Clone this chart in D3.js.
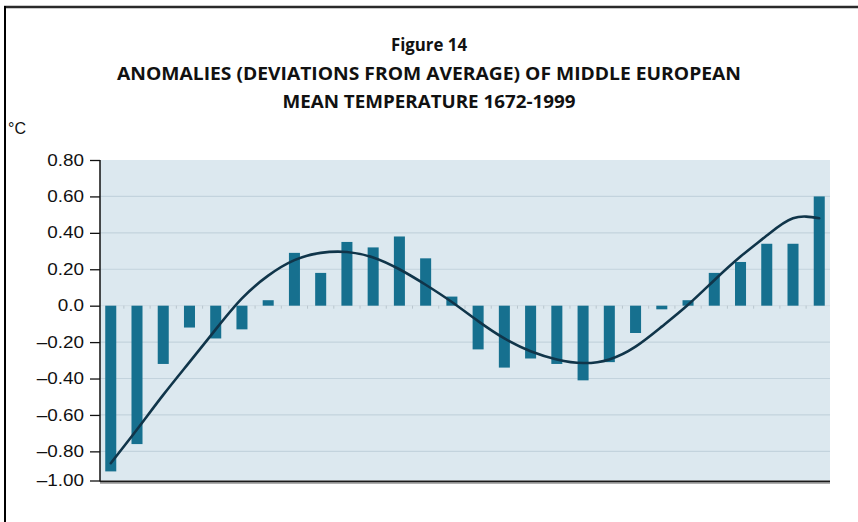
<!DOCTYPE html>
<html>
<head>
<meta charset="utf-8">
<script src="https://cdn.jsdelivr.net/npm/d3@7"></script>
<style>
  html, body { margin: 0; padding: 0; background: #ffffff; }
  svg { display: block; }
</style>
</head>
<body>
<svg id="chart" width="858" height="522"></svg>
<script>
// ---- data ----
const categories = ["1","2","3","4","5","6","7","8","9","10","11","12","13","14",
                    "15","16","17","18","19","20","21","22","23","24","25","26","27","28"];
const anomalies = [-0.91, -0.76, -0.32, -0.12, -0.18, -0.13, 0.03, 0.29, 0.18, 0.35,
                   0.32, 0.38, 0.26, 0.05, -0.24, -0.34, -0.29, -0.32, -0.41, -0.31,
                   -0.15, -0.02, 0.03, 0.18, 0.24, 0.34, 0.34, 0.60];
const trend = [-0.865, -0.68, -0.49, -0.31, -0.13, 0.04, 0.165, 0.25, 0.29, 0.295,
               0.265, 0.20, 0.115, 0.02, -0.085, -0.18, -0.25, -0.295, -0.315, -0.295,
               -0.225, -0.115, 0.005, 0.14, 0.27, 0.385, 0.48, 0.48];
const tickValues = [0.8, 0.6, 0.4, 0.2, 0, -0.2, -0.4, -0.6, -0.8, -0.96];
const tickLabels = ["0.80", "0.60", "0.40", "0.20", "0.0", "\u20130.20", "\u20130.40", "\u20130.60", "\u20130.80", "\u20131.00"];
const titleLines = ["Figure 14",
                    "ANOMALIES (DEVIATIONS FROM AVERAGE) OF MIDDLE EUROPEAN",
                    "MEAN TEMPERATURE 1672-1999"];
const unitLabel = "\u00B0C";

// ---- layout ----
const svg = d3.select("#chart");
const plot = { left: 100, right: 830, top: 160, bottom: 480.5 };

const x = d3.scaleBand().domain(categories).range([plot.left, plot.right])
  .paddingInner(0.58).paddingOuter(0.2);
const y = d3.scaleLinear().domain([-0.96, 0.8]).range([plot.bottom, plot.top]);

// outer frame (top and left only)
svg.append("line").attr("x1", 4).attr("x2", 858).attr("y1", 7).attr("y2", 7)
  .attr("stroke", "#2a2a2a").attr("stroke-width", 2.5);
svg.append("line").attr("x1", 5).attr("x2", 5).attr("y1", 6).attr("y2", 522)
  .attr("stroke", "#000").attr("stroke-width", 2);

// titles
const titleFont = "'Open Sans', 'DejaVu Sans', sans-serif";
const titleSpecs = [
  { y: 51, w: 76 },
  { y: 80, w: 624 },
  { y: 108, w: 293 }
];
titleLines.forEach((t, i) => {
  svg.append("text")
    .attr("x", 429).attr("y", titleSpecs[i].y)
    .attr("text-anchor", "middle")
    .attr("font-family", titleFont)
    .attr("font-weight", "bold")
    .attr("font-size", 18.5)
    .attr("fill", "#111")
    .attr("textLength", titleSpecs[i].w)
    .attr("lengthAdjust", "spacingAndGlyphs")
    .text(t);
});

// unit label
svg.append("text").attr("x", 8).attr("y", 134)
  .attr("font-family", "'Liberation Sans', Arial, sans-serif")
  .attr("font-size", 16).attr("fill", "#111")
  .text(unitLabel);

// plot background
svg.append("rect")
  .attr("x", plot.left).attr("y", plot.top)
  .attr("width", plot.right - plot.left).attr("height", plot.bottom - plot.top)
  .attr("fill", "#dce8ef");

// gridlines
svg.append("g").selectAll("line")
  .data(tickValues.filter(v => v < 0.8 && v > -0.9 && v !== 0))
  .join("line")
  .attr("x1", plot.left).attr("x2", plot.right)
  .attr("y1", d => y(d)).attr("y2", d => y(d))
  .attr("stroke", "#c3d3dd").attr("stroke-width", 1.2);

// zero line with small ticks
svg.append("line").attr("x1", plot.left).attr("x2", plot.right)
  .attr("y1", y(0)).attr("y2", y(0))
  .attr("stroke", "#cfdbe3").attr("stroke-width", 1);
svg.append("g").selectAll("line")
  .data(categories.slice(1))
  .join("line")
  .attr("x1", d => x(d) - x.step() * x.paddingInner() / 2)
  .attr("x2", d => x(d) - x.step() * x.paddingInner() / 2)
  .attr("y1", y(0)).attr("y2", y(0) + 3)
  .attr("stroke", "#b9c6ce").attr("stroke-width", 1);

// bars
svg.append("g").selectAll("rect")
  .data(anomalies)
  .join("rect")
  .attr("x", (d, i) => x(categories[i]))
  .attr("width", x.bandwidth())
  .attr("y", d => y(Math.max(0, d)))
  .attr("height", d => Math.abs(y(d) - y(0)))
  .attr("fill", "#16708f");

// trend curve
const trendLine = d3.line()
  .x((d, i) => x(categories[i]) + x.bandwidth() / 2)
  .y(d => y(d))
  .curve(d3.curveNatural);
svg.append("path")
  .datum(trend)
  .attr("d", trendLine)
  .attr("fill", "none")
  .attr("stroke", "#10354a")
  .attr("stroke-width", 2.6)
  .attr("stroke-linecap", "round");

// y axis
const yAxis = d3.axisLeft(y)
  .tickValues(tickValues)
  .tickSize(10)
  .tickPadding(6)
  .tickFormat((d, i) => tickLabels[i]);
const gy = svg.append("g").attr("transform", `translate(${plot.left},0)`).call(yAxis);
gy.select(".domain").remove();
gy.selectAll(".tick line").attr("stroke", "#111").attr("stroke-width", 1.3);
gy.selectAll(".tick text")
  .attr("font-family", "'Liberation Sans', Arial, sans-serif")
  .attr("font-size", 16)
  .attr("fill", "#111")
  .each(function() {
    const len = this.getComputedTextLength();
    d3.select(this).attr("textLength", len * 1.18).attr("lengthAdjust", "spacingAndGlyphs");
  });

// axis lines
svg.append("line").attr("x1", plot.left).attr("x2", plot.left)
  .attr("y1", plot.top).attr("y2", plot.bottom + 1)
  .attr("stroke", "#111").attr("stroke-width", 1.5);
svg.append("line").attr("x1", plot.left).attr("x2", plot.right)
  .attr("y1", plot.bottom + 1).attr("y2", plot.bottom + 1)
  .attr("stroke", "#1a1a1a").attr("stroke-width", 2.2);
svg.append("line").attr("x1", plot.left).attr("x2", plot.right)
  .attr("y1", plot.bottom + 2.8).attr("y2", plot.bottom + 2.8)
  .attr("stroke", "#9a9a9a").attr("stroke-width", 1);
</script>
</body>
</html>
